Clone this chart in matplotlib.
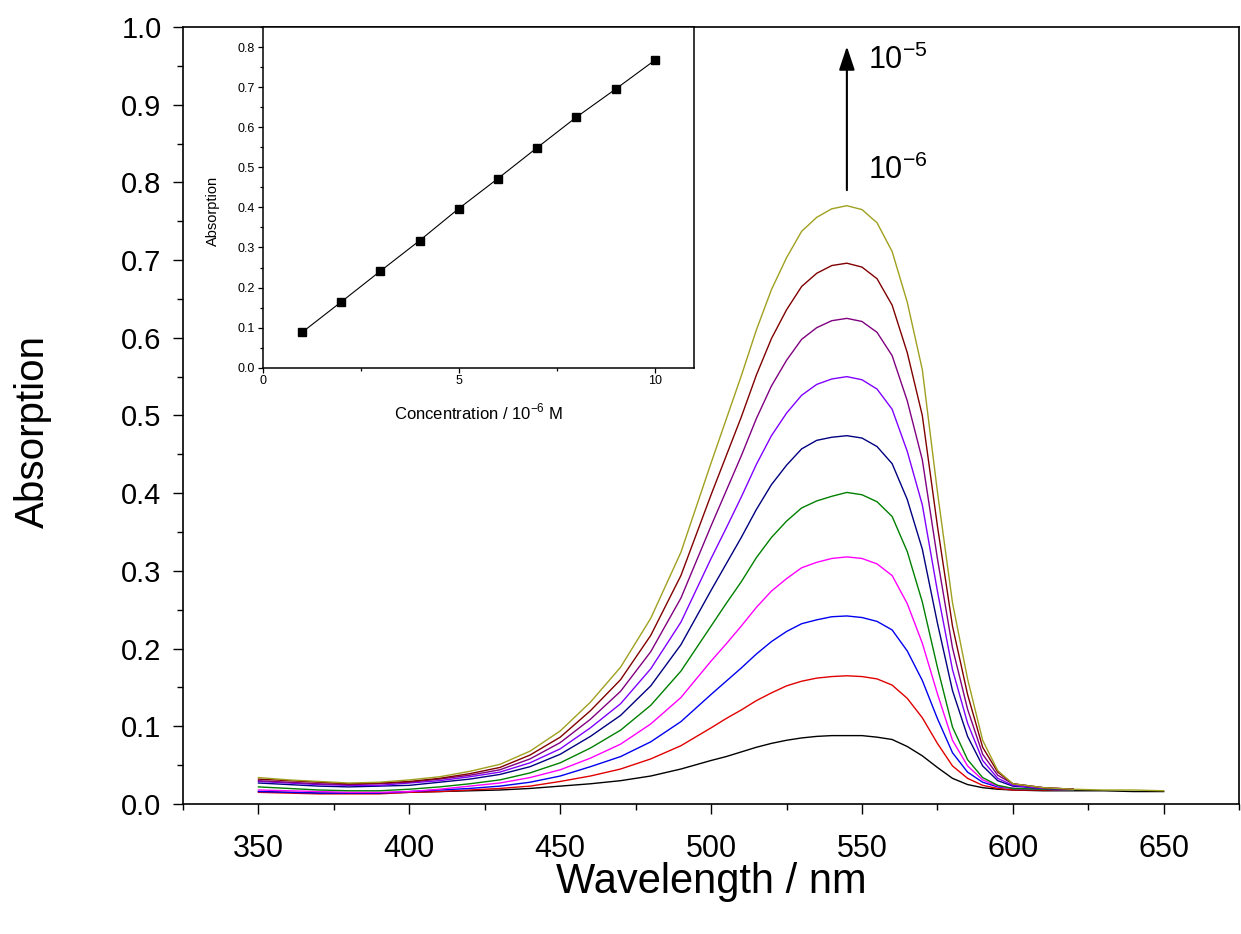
import matplotlib
matplotlib.use("Agg")
import matplotlib.pyplot as plt
from matplotlib.ticker import MultipleLocator
import numpy as np

plt.rcParams["font.family"] = ["Liberation Sans", "DejaVu Sans"]
plt.rcParams["mathtext.fontset"] = "custom"
plt.rcParams["mathtext.rm"] = "Liberation Sans"

# wavelengths (nm) shared by all spectra
wavelength = [350, 360, 370, 380, 390, 400, 410, 420, 430, 440, 450, 460, 470, 480, 490,
              500, 505, 510, 515, 520, 525, 530, 535, 540, 545, 550, 555, 560, 565, 570,
              575, 580, 585, 590, 595, 600, 610, 620, 630, 640, 650]

# absorption spectra, 1e-6 M ... 1e-5 M
c1 = [.016, .015, .014, .014, .014, .015, .016, .017, .018, .020, .023, .026, .030, .036, .045,
      .056, .061, .067, .073, .078, .082, .085, .087, .088, .088, .088, .086, .083, .074, .062,
      .047, .033, .025, .021, .019, .018, .017, .017, .017, .016, .016]
c2 = [.015, .014, .013, .013, .013, .015, .016, .018, .020, .023, .029, .036, .045, .058, .075,
      .098, .110, .121, .133, .143, .152, .158, .162, .164, .165, .164, .161, .153, .136, .111,
      .078, .049, .033, .024, .020, .018, .018, .018]
c3 = [.016, .015, .014, .014, .014, .016, .018, .020, .023, .028, .036, .048, .061, .080, .106,
      .141, .158, .175, .193, .209, .222, .232, .237, .241, .242, .240, .235, .224, .197, .159,
      .110, .066, .041, .028, .022, .020, .019, .018]
c4 = [.018, .017, .016, .015, .015, .016, .019, .023, .027, .034, .044, .059, .077, .103, .137,
      .184, .206, .229, .253, .274, .290, .304, .311, .316, .318, .316, .309, .294, .258, .207,
      .142, .082, .049, .031, .023, .020, .019, .018]
c5 = [.022, .020, .018, .017, .017, .019, .022, .026, .031, .040, .053, .072, .095, .127, .171,
      .229, .258, .286, .317, .343, .364, .381, .390, .396, .401, .398, .389, .370, .325, .260,
      .176, .099, .057, .034, .024, .020, .019, .018]
c6 = [.027, .025, .023, .022, .023, .024, .028, .032, .038, .048, .064, .087, .114, .152, .205,
      .275, .309, .343, .379, .411, .436, .457, .468, .472, .474, .471, .460, .438, .392, .328,
      .233, .146, .087, .049, .030, .023, .020, .019]
c7 = [.029, .027, .025, .024, .024, .027, .030, .035, .041, .053, .071, .098, .129, .174, .234,
      .316, .355, .395, .437, .474, .503, .526, .540, .547, .550, .546, .534, .508, .454, .385,
      .274, .173, .104, .056, .033, .024, .020, .019]
c8 = [.030, .028, .026, .025, .026, .028, .032, .037, .044, .058, .079, .109, .145, .196, .265,
      .358, .403, .448, .496, .538, .571, .598, .613, .622, .625, .621, .607, .577, .519, .443,
      .316, .201, .122, .064, .037, .026, .021, .019]
c9 = [.032, .030, .028, .026, .027, .029, .033, .039, .047, .063, .086, .120, .160, .217, .294,
      .398, .448, .498, .552, .599, .636, .666, .683, .693, .696, .691, .676, .642, .581, .500,
      .358, .229, .141, .073, .041, .026, .021, .019]
c10 = [.034, .031, .029, .027, .028, .031, .035, .042, .051, .068, .094, .131, .176, .239, .324,
       .439, .495, .551, .610, .662, .703, .737, .755, .766, .770, .765, .748, .711, .646, .559,
       .402, .259, .161, .082, .043, .026, .021, .019, .018, .018, .017]

spectra = [c1, c2, c3, c4, c5, c6, c7, c8, c9, c10]
colors = ["#000000", "#e00000", "#0000ee", "#ff00ff", "#008000",
          "#000080", "#8000ff", "#800080", "#800000", "#a0a020"]

# inset: calibration line
conc = [1, 2, 3, 4, 5, 6, 7, 8, 9, 10]
peak_abs = [0.088, 0.164, 0.241, 0.317, 0.397, 0.472, 0.549, 0.625, 0.695, 0.767]

fig = plt.figure(figsize=(12.41, 9.34), dpi=100)
ax = fig.add_axes([0.1475, 0.1392, 0.851, 0.8319])

for spec, col in zip(spectra, colors):
    ax.plot(wavelength[:len(spec)], spec, color=col, lw=1.0)

ax.set_xlim(325, 675)
ax.set_ylim(0, 1.0)
ax.xaxis.set_major_locator(MultipleLocator(50))
ax.xaxis.set_minor_locator(MultipleLocator(25))
ax.yaxis.set_major_locator(MultipleLocator(0.1))
ax.yaxis.set_minor_locator(MultipleLocator(0.05))
ax.yaxis.set_major_formatter("{x:.1f}")
ax.tick_params(which="both", direction="out", top=False, right=False, width=1.0)
ax.tick_params(which="major", length=7.5)
ax.tick_params(which="minor", length=4)
ax.tick_params(axis="y", labelsize=21, pad=8)
ax.tick_params(axis="x", labelsize=22, pad=14)
for sp in ax.spines.values():
    sp.set_linewidth(1.2)

ax.set_xlabel("Wavelength / nm", fontsize=30)
ax.xaxis.set_label_coords(0.5, -0.075)
ax.set_ylabel("Absorption", fontsize=29)
ax.yaxis.set_label_coords(-0.124, 0.48)

ax.annotate("", xy=(545, 0.975), xytext=(545, 0.79),
            arrowprops=dict(arrowstyle="-|>,head_length=0.9,head_width=0.3",
                            color="black", lw=1.5, mutation_scale=16,
                            shrinkA=0, shrinkB=0))
ax.text(552, 0.957, r"10$^{\mathregular{-5}}$", fontsize=22, va="center")
ax.text(552, 0.815, r"10$^{\mathregular{-6}}$", fontsize=22, va="center")

ins = fig.add_axes([0.2117, 0.6063, 0.3475, 0.3648])
ins.plot(conc, peak_abs, color="black", lw=0.8, marker="s", markersize=5.5)
ins.set_xlim(0, 11)
ins.set_ylim(0, 0.85)
ins.xaxis.set_major_locator(MultipleLocator(5))
ins.xaxis.set_minor_locator(MultipleLocator(2.5))
ins.yaxis.set_major_locator(MultipleLocator(0.1))
ins.yaxis.set_minor_locator(MultipleLocator(0.05))
ins.yaxis.set_major_formatter("{x:.1f}")
ins.tick_params(which="both", direction="out", top=False, right=False,
                labelsize=9, width=0.9, pad=2)
ins.tick_params(which="major", length=3.5)
ins.tick_params(which="minor", length=2)
for sp in ins.spines.values():
    sp.set_linewidth(1.1)
ins.set_xlabel(r"Concentration / 10$^{\mathregular{-6}}$ M", fontsize=12)
ins.xaxis.set_label_coords(0.5, -0.1)
ins.set_ylabel("Absorption", fontsize=10.5)
ins.yaxis.set_label_coords(-0.1, 0.46)

fig.savefig("out.png", dpi=100)
